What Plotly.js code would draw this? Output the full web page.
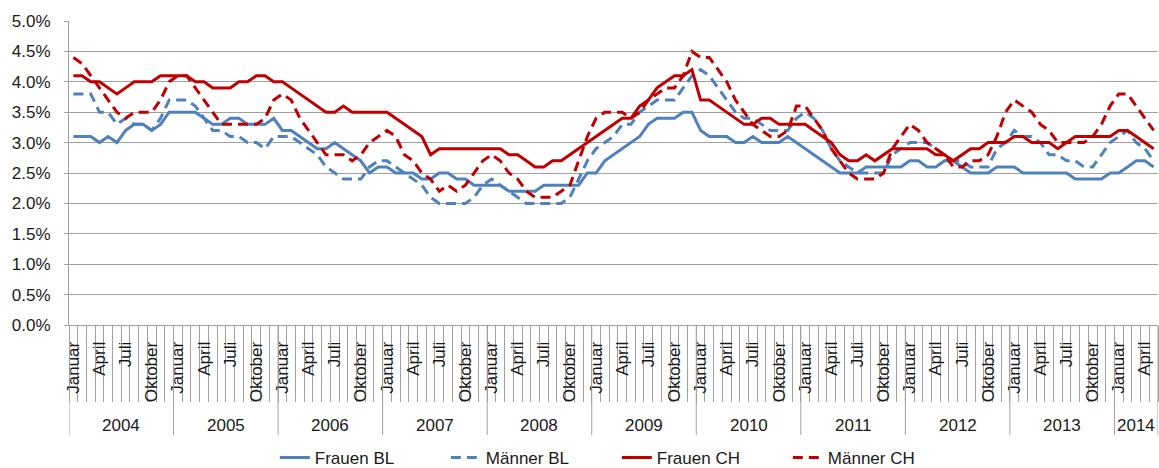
<!DOCTYPE html>
<html>
<head>
<meta charset="utf-8">
<script src="https://cdn.plot.ly/plotly-3.0.1.min.js"></script>
<style>
html,body{margin:0;padding:0;background:#ffffff;}
#chart{width:1159px;height:468px;}
</style>
</head>
<body>
<div id="chart"></div>
<script>
// ---- data (unemployment rate in %) ----
const years = [2004, 2005, 2006, 2007, 2008, 2009, 2010, 2011, 2012, 2013, 2014];
const monthNames = ['Januar','Februar','März','April','Mai','Juni','Juli','August','September','Oktober','November','Dezember'];
const labeledMonths = ['Januar','April','Juli','Oktober'];
const monthsInLastYear = 5;

const frauenBL = [
  3.1,3.1,3.1,3.0,3.1,3.0,3.2,3.3,3.3,3.2,3.3,3.5,
  3.5,3.5,3.5,3.4,3.3,3.3,3.4,3.4,3.3,3.3,3.3,3.4,
  3.2,3.2,3.1,3.0,2.9,2.9,3.0,2.9,2.8,2.7,2.5,2.6,
  2.6,2.5,2.5,2.5,2.4,2.4,2.5,2.5,2.4,2.4,2.3,2.3,
  2.3,2.3,2.2,2.2,2.2,2.2,2.3,2.3,2.3,2.3,2.3,2.5,
  2.5,2.7,2.8,2.9,3.0,3.1,3.3,3.4,3.4,3.4,3.5,3.5,
  3.2,3.1,3.1,3.1,3.0,3.0,3.1,3.0,3.0,3.0,3.1,3.0,
  2.9,2.8,2.7,2.6,2.5,2.5,2.5,2.6,2.6,2.6,2.6,2.6,
  2.7,2.7,2.6,2.6,2.7,2.7,2.6,2.5,2.5,2.5,2.6,2.6,
  2.6,2.5,2.5,2.5,2.5,2.5,2.5,2.4,2.4,2.4,2.4,2.5,
  2.5,2.6,2.7,2.7,2.6
];
const maennerBL = [
  3.8,3.8,3.8,3.5,3.5,3.3,3.4,3.3,3.3,3.2,3.4,3.7,
  3.7,3.7,3.6,3.4,3.2,3.2,3.1,3.1,3.0,3.0,2.9,3.1,
  3.1,3.1,3.0,2.9,2.8,2.6,2.5,2.4,2.4,2.4,2.6,2.7,
  2.7,2.6,2.5,2.4,2.3,2.1,2.0,2.0,2.0,2.0,2.1,2.3,
  2.4,2.3,2.2,2.1,2.0,2.0,2.0,2.0,2.0,2.1,2.4,2.7,
  2.9,3.0,3.1,3.3,3.3,3.5,3.6,3.7,3.7,3.7,3.9,4.1,
  4.2,4.1,3.9,3.7,3.5,3.4,3.4,3.3,3.2,3.2,3.2,3.4,
  3.5,3.4,3.2,2.9,2.7,2.6,2.5,2.5,2.5,2.5,2.8,2.9,
  3.0,3.0,3.0,2.9,2.8,2.7,2.7,2.6,2.6,2.6,2.9,3.0,
  3.2,3.1,3.1,3.0,2.8,2.8,2.7,2.7,2.6,2.6,2.8,3.0,
  3.1,3.2,3.0,2.9,2.7
];
const frauenCH = [
  4.1,4.1,4.0,4.0,3.9,3.8,3.9,4.0,4.0,4.0,4.1,4.1,
  4.1,4.1,4.0,4.0,3.9,3.9,3.9,4.0,4.0,4.1,4.1,4.0,
  4.0,3.9,3.8,3.7,3.6,3.5,3.5,3.6,3.5,3.5,3.5,3.5,
  3.5,3.4,3.3,3.2,3.1,2.8,2.9,2.9,2.9,2.9,2.9,2.9,
  2.9,2.9,2.8,2.8,2.7,2.6,2.6,2.7,2.7,2.8,2.9,3.0,
  3.1,3.2,3.3,3.4,3.4,3.6,3.7,3.9,4.0,4.1,4.1,4.2,
  3.7,3.7,3.6,3.5,3.4,3.3,3.3,3.4,3.4,3.3,3.3,3.3,
  3.3,3.2,3.1,3.0,2.8,2.7,2.7,2.8,2.7,2.8,2.9,2.9,
  2.9,2.9,2.9,2.8,2.8,2.7,2.8,2.9,2.9,3.0,3.0,3.0,
  3.1,3.1,3.0,3.0,3.0,2.9,3.0,3.1,3.1,3.1,3.1,3.1,
  3.2,3.2,3.1,3.0,2.9
];
const maennerCH = [
  4.4,4.3,4.1,3.9,3.7,3.5,3.4,3.5,3.5,3.5,3.7,4.0,
  4.1,4.1,3.9,3.7,3.5,3.3,3.3,3.3,3.3,3.3,3.4,3.7,
  3.8,3.7,3.4,3.2,3.0,2.8,2.8,2.8,2.7,2.8,3.0,3.1,
  3.2,3.1,2.8,2.7,2.5,2.4,2.2,2.3,2.2,2.3,2.5,2.7,
  2.8,2.7,2.5,2.4,2.2,2.1,2.1,2.1,2.2,2.3,2.7,3.1,
  3.4,3.5,3.5,3.5,3.4,3.5,3.7,3.8,3.9,3.9,4.1,4.5,
  4.4,4.4,4.2,4.0,3.7,3.5,3.3,3.2,3.1,3.1,3.2,3.6,
  3.6,3.4,3.2,2.9,2.7,2.5,2.4,2.4,2.4,2.5,2.9,3.1,
  3.3,3.2,3.0,2.9,2.8,2.6,2.6,2.7,2.7,2.8,3.1,3.5,
  3.7,3.6,3.5,3.3,3.2,3.0,3.0,3.0,3.0,3.1,3.3,3.6,
  3.8,3.8,3.6,3.4,3.2
];
const seriesNames = ['Frauen BL','Männer BL','Frauen CH','Männer CH'];
const yTickVals = [0,0.5,1.0,1.5,2.0,2.5,3.0,3.5,4.0,4.5,5.0];
const yTickText = ['0.0%','0.5%','1.0%','1.5%','2.0%','2.5%','3.0%','3.5%','4.0%','4.5%','5.0%'];

// ---- build categories ----
const xCats = [], tickText = [], yearStartIdx = [], yearCount = [];
years.forEach((yr, yi) => {
  const n = (yi === years.length - 1) ? monthsInLastYear : 12;
  yearStartIdx.push(xCats.length);
  yearCount.push(n);
  for (let m = 0; m < n; m++) {
    xCats.push(monthNames[m] + ' ' + yr);
    tickText.push(labeledMonths.includes(monthNames[m]) ? monthNames[m] : '');
  }
});

const FONT = 'Liberation Sans, Arial, sans-serif';
const TXT = '#1a1a1a';
const GRID = '#a0a0a0';
const BLUE = '#4f81bd';
const RED = '#c00000';

const series = [frauenBL, maennerBL, frauenCH, maennerCH];
const colors = [BLUE, BLUE, RED, RED];
const dashes = ['solid', '10px,6px', 'solid', '10px,6px'];

const traces = series.map((vals, i) => ({
  type: 'scatter', mode: 'lines',
  x: xCats, y: vals, name: seriesNames[i],
  line: {color: colors[i], width: 3, dash: dashes[i]},
  hoverinfo: 'x+y+name'
}));

// year separators and year labels
const shapes = [];
const annotations = [];
const sepBottom = -(435 - 325) / 304;
yearStartIdx.forEach((s, k) => {
  shapes.push({type:'line', xref:'x', yref:'paper', x0: s - 0.5, x1: s - 0.5, y0: 0, y1: sepBottom,
               line:{color: GRID, width: 1}});
  annotations.push({xref:'x', yref:'paper', x: s + (yearCount[k] - 1) / 2, y: -(425 - 325) / 304,
                    text: String(years[k]), showarrow: false, yanchor: 'middle',
                    font: {family: FONT, size: 17, color: TXT}});
});
shapes.push({type:'line', xref:'x', yref:'paper', x0: xCats.length - 0.5, x1: xCats.length - 0.5, y0: 0, y1: sepBottom,
             line:{color: GRID, width: 1}});

const layout = {
  width: 1159, height: 468,
  margin: {l: 69, r: 1, t: 21, b: 143, autoexpand: false},
  paper_bgcolor: '#ffffff', plot_bgcolor: '#ffffff',
  font: {family: FONT, size: 17, color: TXT},
  showlegend: true,
  legend: {orientation: 'h', x: 0.189, xanchor: 'left', y: -(458 - 325) / 304, yanchor: 'middle',
           font: {family: FONT, size: 17, color: TXT}, entrywidth: 126, entrywidthmode: 'pixels',
           bgcolor: 'rgba(0,0,0,0)'},
  xaxis: {
    type: 'category', categoryorder: 'array', categoryarray: xCats,
    range: [-0.5, xCats.length - 0.5],
    tickmode: 'array', tickvals: xCats, ticktext: tickText,
    tickson: 'boundaries', ticks: 'outside', ticklen: 76, tickwidth: 1, tickcolor: GRID,
    tickangle: -90, tickfont: {family: FONT, size: 17, color: TXT},
    ticklabelstandoff: 9,
    showgrid: false, zeroline: false,
    showline: true, linecolor: GRID, linewidth: 1
  },
  yaxis: {
    range: [0, 5], tickmode: 'array', tickvals: yTickVals, ticktext: yTickText,
    ticks: 'outside', ticklen: 4, tickcolor: GRID, tickwidth: 1,
    ticklabelstandoff: 10,
    showgrid: true, gridcolor: GRID, gridwidth: 1,
    zeroline: false, showline: true, linecolor: GRID, linewidth: 1,
    tickfont: {family: FONT, size: 17, color: TXT}
  },
  shapes: shapes,
  annotations: annotations
};

Plotly.newPlot('chart', traces, layout, {displayModeBar: false, staticPlot: true});
</script>
</body>
</html>
